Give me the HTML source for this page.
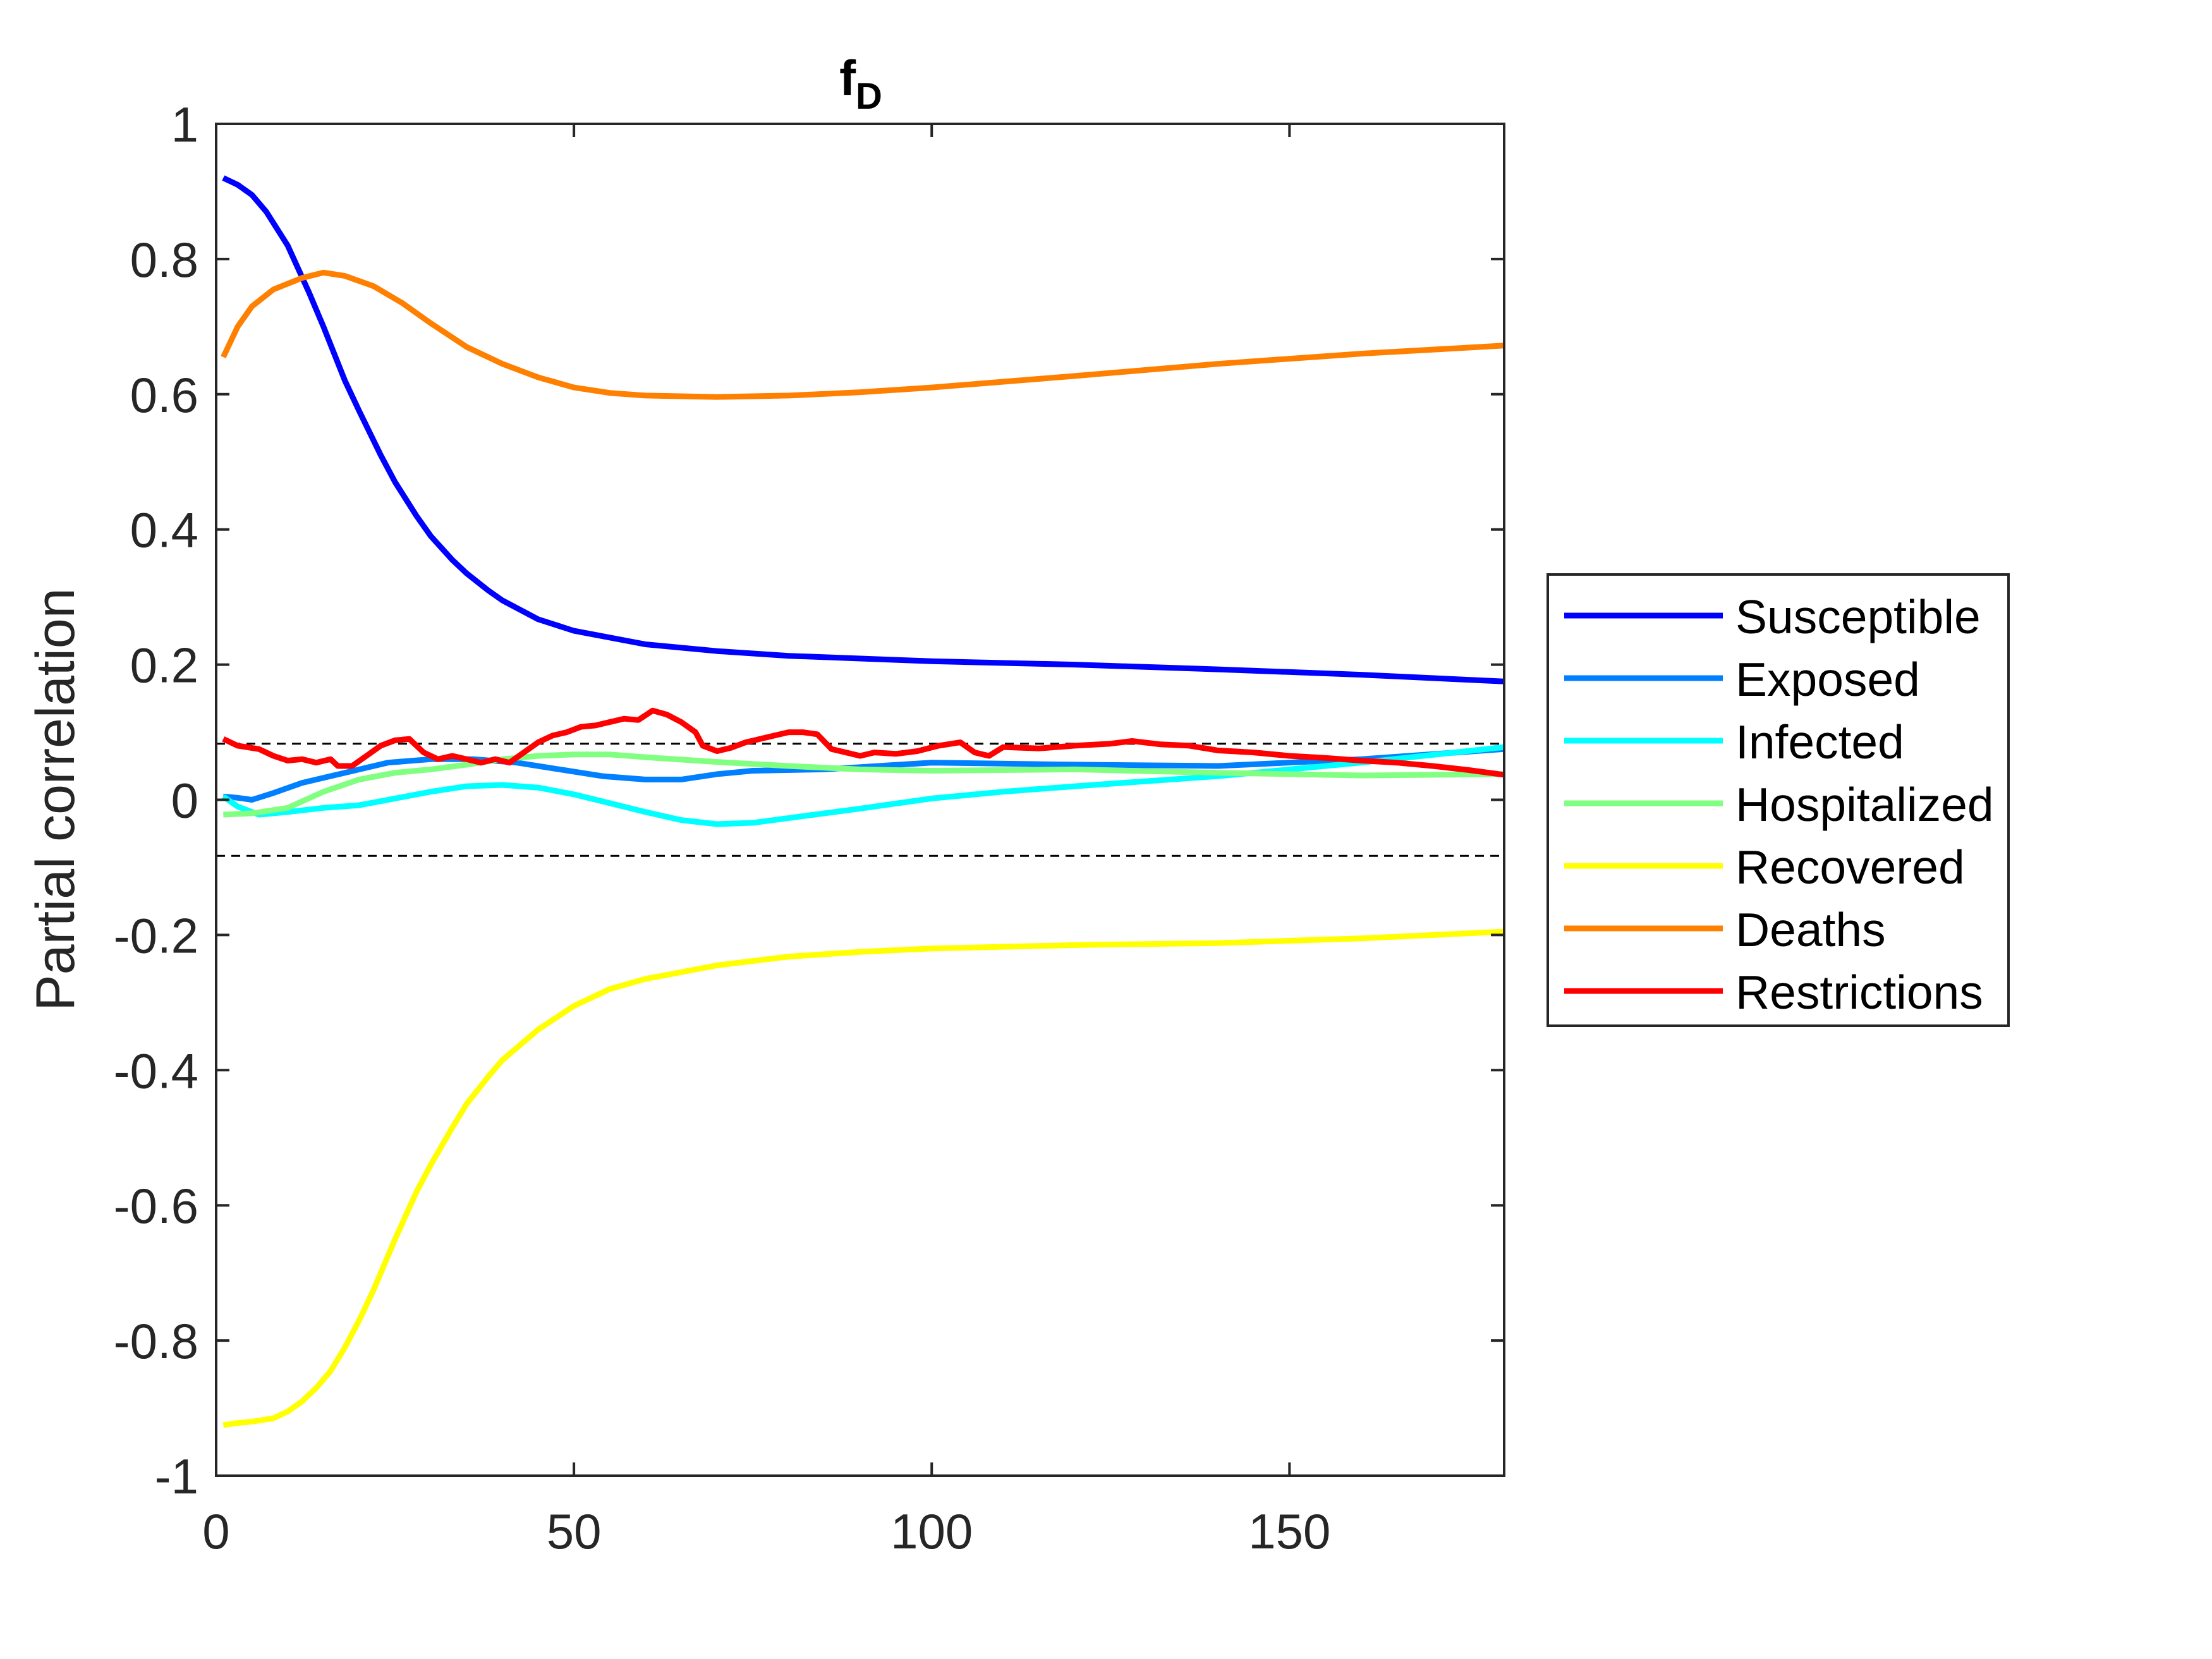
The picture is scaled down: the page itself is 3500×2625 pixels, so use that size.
<!DOCTYPE html>
<html><head><meta charset="utf-8">
<style>
html,body{margin:0;padding:0;background:#fff;}
svg{display:block;}
text{font-family:"Liberation Sans",Arial,sans-serif;fill:#262626;}
</style></head>
<body>
<svg id="chart" width="3500" height="2625" viewBox="0 0 3500 2625" xmlns="http://www.w3.org/2000/svg">
<rect x="0" y="0" width="3500" height="2625" fill="#fff"/>
<g id="plot"></g>
<g id="axes"></g>
<text x="1362" y="150" font-size="78" font-weight="bold" text-anchor="middle" style="fill:#000">f<tspan font-size="58" dy="22">D</tspan></text>
<text x="0" y="0" font-size="86" text-anchor="middle" transform="translate(117,1265) rotate(-90)">Partial correlation</text>
<g id="legend"></g>
</svg>
<script>
const xTicks=[0,50,100,150];
const yTicks=[-1,-0.8,-0.6,-0.4,-0.2,0,0.2,0.4,0.6,0.8,1];
const yTickLabels=["-1","-0.8","-0.6","-0.4","-0.2","0","0.2","0.4","0.6","0.8","1"];
const thresholds=[0.083,-0.083];
const seriesNames=["Susceptible","Exposed","Infected","Hospitalized","Recovered","Deaths","Restrictions"];
const seriesColors=["#0000ff","#0080ff","#00ffff","#80ff80","#ffff00","#ff8000","#ff0000"];
const susX=[1,3,5,7,10,13,15,18,20,23,25,28,30,33,35,38,40,45,50,60,70,80,100,120,140,160,180];
const susY=[0.92,0.91,0.895,0.87,0.82,0.75,0.70,0.62,0.575,0.51,0.47,0.42,0.39,0.355,0.335,0.31,0.295,0.267,0.25,0.23,0.22,0.213,0.205,0.2,0.193,0.185,0.175];
const expX=[1,3,5,8,12,18,24,30,36,42,48,54,60,65,70,75,85,100,120,140,160,180];
const expY=[0.005,0.003,0.0,0.01,0.025,0.04,0.055,0.06,0.06,0.055,0.045,0.035,0.03,0.03,0.038,0.043,0.045,0.055,0.052,0.05,0.06,0.075];
const infX=[1,3,6,10,15,20,25,30,35,40,45,50,55,60,65,70,75,80,90,100,110,120,140,160,180];
const infY=[0.005,-0.01,-0.022,-0.018,-0.012,-0.008,0.002,0.012,0.02,0.022,0.018,0.008,-0.005,-0.018,-0.03,-0.036,-0.034,-0.027,-0.013,0.002,0.012,0.02,0.035,0.055,0.078];
const hosX=[1,5,10,15,20,25,30,35,40,45,50,55,60,70,80,90,100,120,140,160,180];
const hosY=[-0.022,-0.02,-0.012,0.012,0.03,0.04,0.045,0.052,0.06,0.065,0.067,0.067,0.063,0.056,0.05,0.045,0.043,0.045,0.04,0.036,0.038];
const recX=[1,3,5,8,10,12,14,16,18,20,22,25,28,30,33,35,38,40,45,50,55,60,70,80,90,100,120,140,160,180];
const recY=[-0.925,-0.922,-0.92,-0.915,-0.905,-0.89,-0.87,-0.845,-0.81,-0.77,-0.725,-0.65,-0.58,-0.54,-0.485,-0.45,-0.41,-0.385,-0.34,-0.305,-0.28,-0.265,-0.245,-0.232,-0.225,-0.22,-0.215,-0.212,-0.205,-0.195];
const deaX=[1,3,5,8,12,15,18,22,26,30,35,40,45,50,55,60,70,80,90,100,120,140,160,180];
const deaY=[0.655,0.7,0.73,0.755,0.772,0.78,0.775,0.76,0.735,0.705,0.67,0.645,0.625,0.61,0.602,0.598,0.596,0.598,0.603,0.61,0.627,0.645,0.66,0.672];
const resX=[1,3,6,8,10,12,14,16,17,19,21,23,25,27,29,31,33,35,37,39,41,43,45,47,49,51,53,55,57,59,61,63,65,67,68,70,72,74,76,78,80,82,84,86,88,90,92,95,98,101,104,106,108,110,115,120,125,128,132,136,140,145,150,155,160,165,170,175,180];
const resY=[0.09,0.08,0.075,0.065,0.058,0.06,0.055,0.06,0.05,0.05,0.065,0.08,0.088,0.09,0.07,0.06,0.065,0.06,0.055,0.06,0.055,0.07,0.085,0.095,0.1,0.108,0.11,0.115,0.12,0.118,0.132,0.126,0.115,0.1,0.08,0.072,0.077,0.085,0.09,0.095,0.1,0.1,0.097,0.075,0.07,0.065,0.07,0.068,0.072,0.08,0.085,0.07,0.065,0.078,0.076,0.08,0.083,0.087,0.082,0.08,0.073,0.07,0.065,0.062,0.058,0.055,0.05,0.044,0.037];

const L=342,R=2380,T=196,B=2335,XMAX=180;
const sx=v=>L+(v/XMAX)*(R-L);
const sy=v=>T+(1-v)/2*(B-T);
const NS="http://www.w3.org/2000/svg";
function mk(tag,attrs,parent){const e=document.createElementNS(NS,tag);for(const k in attrs)e.setAttribute(k,attrs[k]);parent.appendChild(e);return e;}
const plot=document.getElementById('plot');
const axes=document.getElementById('axes');

thresholds.forEach((t,i)=>{
  const l=mk('line',{x1:L,x2:R,y1:sy(t),y2:sy(t),stroke:'#000','stroke-width':3,'stroke-dasharray':'14 10'},plot);
  
  
});

const allX=[susX,expX,infX,hosX,recX,deaX,resX];
const allY=[susY,expY,infY,hosY,recY,deaY,resY];
allX.forEach((xs,i)=>{
  const pts=xs.map((x,j)=>sx(x).toFixed(1)+','+sy(allY[i][j]).toFixed(1)).join(' ');
  const p=mk('polyline',{points:pts,fill:'none',stroke:seriesColors[i],'stroke-width':9,'stroke-linejoin':'round'},plot);
  
  
});

const box=mk('rect',{x:L,y:T,width:R-L,height:B-T,fill:'none',stroke:'#262626','stroke-width':4},axes);


xTicks.forEach(v=>{
  mk('line',{x1:sx(v),x2:sx(v),y1:B,y2:B-21,stroke:'#262626','stroke-width':4},axes);
  mk('line',{x1:sx(v),x2:sx(v),y1:T,y2:T+21,stroke:'#262626','stroke-width':4},axes);
  const t=mk('text',{x:sx(v),y:2450,'font-size':78,'text-anchor':'middle'},axes);
  t.textContent=String(v);
  
  
});
yTicks.forEach((v,i)=>{
  mk('line',{x1:L,x2:L+21,y1:sy(v),y2:sy(v),stroke:'#262626','stroke-width':4},axes);
  mk('line',{x1:R,x2:R-21,y1:sy(v),y2:sy(v),stroke:'#262626','stroke-width':4},axes);
  const t=mk('text',{x:L-28,y:sy(v)+28,'font-size':78,'text-anchor':'end'},axes);
  t.textContent=yTickLabels[i];
  
  
});

const lg=document.getElementById('legend');
mk('rect',{x:2449,y:909,width:729,height:714,fill:'#fff',stroke:'#262626','stroke-width':4},lg);
seriesNames.forEach((n,i)=>{
  const y=974+i*99;
  const ln=mk('line',{x1:2475,x2:2726,y1:y,y2:y,stroke:seriesColors[i],'stroke-width':9},lg);
  
  
  const t=mk('text',{x:2746,y:y+28,'font-size':75},lg);
  t.setAttribute('style','fill:#000');
  t.textContent=n;
  
  
});
</script>
</body></html>
